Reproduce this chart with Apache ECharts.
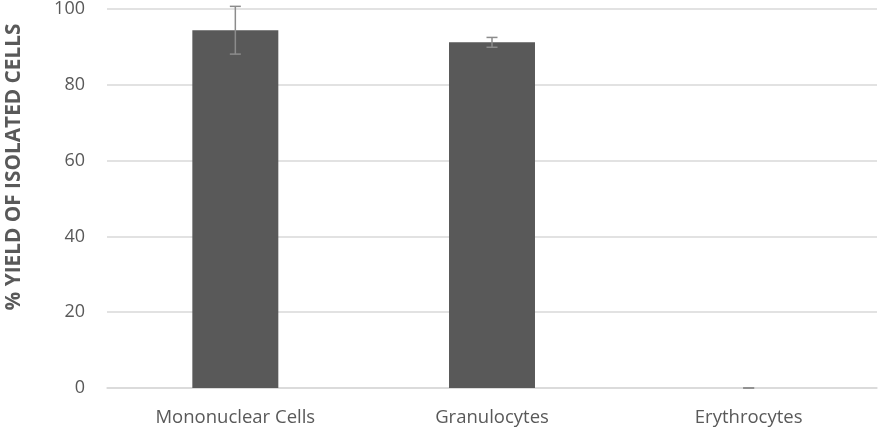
<!DOCTYPE html>
<html>
<head>
<meta charset="utf-8">
<script src="https://cdn.jsdelivr.net/npm/echarts@6/dist/echarts.min.js"></script>
<style>
html, body { margin: 0; padding: 0; background: #fff; }
#chart { width: 882px; height: 436px; }
</style>
</head>
<body>
<div id="chart"></div>
<script>
var categories = ['Mononuclear Cells', 'Granulocytes', 'Erythrocytes'];
var yieldValues = [94.4, 91.2, 0];
var yieldErrors = [6.3, 1.3, 0];
var yTicks = [0, 20, 40, 60, 80, 100];

var chartMain = (function() {
    var textColor = '#595959';
    var font = 'Open Sans';

    function errorItem(params, api) {
        var idx = api.value(0);
        var hi = api.coord([idx, api.value(2)]);
        var lo = api.coord([idx, api.value(1)]);
        var half = 5.5;
        var style = { stroke: '#8c8c8c', lineWidth: 1.5 };
        return {
            type: 'group',
            children: [
                { type: 'line', shape: { x1: hi[0], y1: hi[1], x2: lo[0], y2: lo[1] }, style: style },
                { type: 'line', shape: { x1: hi[0] - half, y1: hi[1], x2: hi[0] + half, y2: hi[1] }, style: style },
                { type: 'line', shape: { x1: lo[0] - half, y1: lo[1], x2: lo[0] + half, y2: lo[1] }, style: style }
            ]
        };
    }

    function init() {
        var errData = yieldValues.map(function(v, i) {
            return [i, v - yieldErrors[i], v + yieldErrors[i]];
        });
        var myChart = echarts.init(document.getElementById('chart'));
        var option = {
            animation: false,
            grid: { left: 107, right: 5, top: 8, bottom: 48 },
            xAxis: {
                type: 'category',
                data: categories,
                axisLine: { lineStyle: { color: '#d9d9d9', width: 1.5 } },
                axisTick: { show: false },
                axisLabel: { color: textColor, fontFamily: font, fontSize: 18.5, margin: 20 }
            },
            yAxis: {
                type: 'value',
                min: 0,
                max: 100,
                interval: 20,
                axisLine: { show: false },
                axisTick: { show: false },
                splitLine: { lineStyle: { color: '#d9d9d9', width: 1.5 } },
                axisLabel: {
                    color: textColor, fontFamily: font, fontSize: 18, margin: 22,
                    formatter: function(v) { return yTicks.indexOf(v) >= 0 ? String(v) : ''; }
                }
            },
            graphic: [{
                type: 'text',
                x: 14,
                y: 167,
                rotation: Math.PI / 2,
                style: {
                    text: '% YIELD OF ISOLATED CELLS',
                    fill: textColor,
                    font: 'bold 20.8px "Open Sans"',
                    textAlign: 'center',
                    textVerticalAlign: 'middle'
                }
            }],
            series: [{
                type: 'bar',
                data: yieldValues,
                barWidth: '33.5%',
                itemStyle: { color: '#595959' }
            }, {
                type: 'custom',
                renderItem: errorItem,
                data: errData,
                z: 5
            }]
        };
        myChart.setOption(option, true);
    }

    init();
    return {};
})();
</script>
</body>
</html>
